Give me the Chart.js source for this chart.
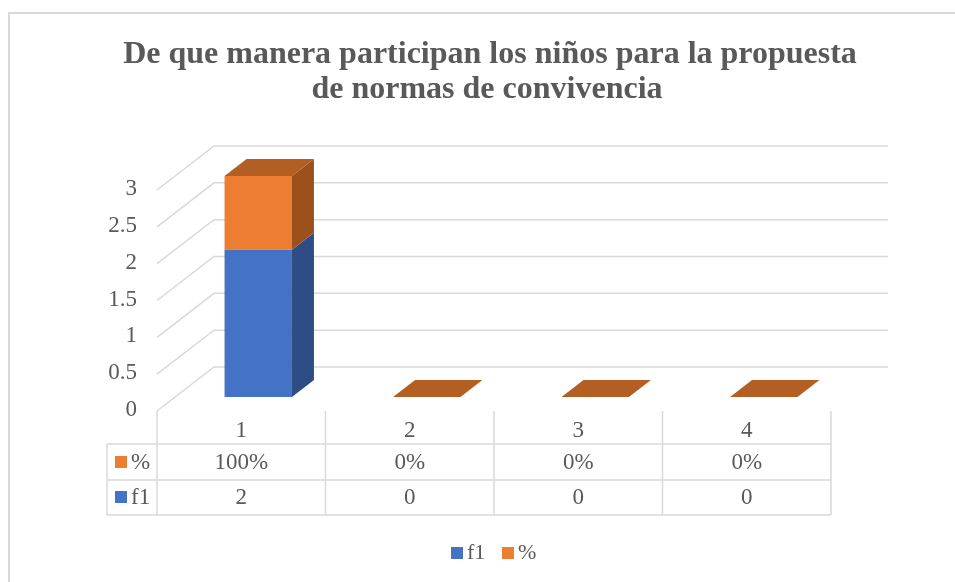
<!DOCTYPE html>
<html>
<head>
<meta charset="utf-8">
<script src="https://cdn.jsdelivr.net/npm/chart.js@4"></script>
<style>
  body { margin: 0; background: #fff; }
  canvas { display: block; }
</style>
</head>
<body>
<canvas id="chart" width="955" height="582"></canvas>
<script>
const categories = ['1', '2', '3', '4'];
const f1Values = [2, 0, 0, 0];
const pctValues = [1, 0, 0, 0]; // 100% shown as a stack of 1
const yTicks = [0, 0.5, 1, 1.5, 2, 2.5, 3];
const titleLines = ['De que manera participan los niños para la propuesta', 'de normas de convivencia'];

const serif = '"Liberation Serif", "Times New Roman", serif';
const textColor = '#595959';
const gridColor = '#D9D9D9';

// offsets of the fake 3D planes relative to the bar plane
const front = { dx: -17, dy: 14 };
const back = { dx: 40, dy: -30 };
const barDepth = { dx: 22, dy: -17 };

const sideColors = ['#2E4C85', '#9C501C'];
const topColor = '#B35F23';

function poly(ctx, pts, color) {
  ctx.beginPath();
  ctx.moveTo(pts[0][0], pts[0][1]);
  for (let i = 1; i < pts.length; i++) ctx.lineTo(pts[i][0], pts[i][1]);
  ctx.closePath();
  ctx.fillStyle = color;
  ctx.fill();
}

const wallsPlugin = {
  id: 'walls',
  beforeDatasetsDraw(chart) {
    const ctx = chart.ctx;
    const yScale = chart.scales.y;
    const area = chart.chartArea;
    ctx.save();
    ctx.strokeStyle = gridColor;
    ctx.lineWidth = 1.5;
    yTicks.forEach(v => {
      const y = yScale.getPixelForValue(v);
      ctx.beginPath();
      ctx.moveTo(area.left + front.dx, y + front.dy);
      ctx.lineTo(area.left + back.dx, y + back.dy);
      ctx.lineTo(area.right + back.dx, y + back.dy);
      ctx.stroke();
    });
    // tick labels
    ctx.fillStyle = textColor;
    ctx.font = '23px ' + serif;
    ctx.textAlign = 'right';
    ctx.textBaseline = 'middle';
    yTicks.forEach(v => {
      const y = yScale.getPixelForValue(v);
      ctx.fillText(String(v), 137, y + 13);
    });
    ctx.restore();
  },
  afterDatasetsDraw(chart) {
    const ctx = chart.ctx;
    const last = chart.data.datasets.length - 1;
    ctx.save();
    chart.data.datasets.forEach((ds, i) => {
      const meta = chart.getDatasetMeta(i);
      meta.data.forEach(bar => {
        const p = bar.getProps(['x', 'y', 'base', 'width'], true);
        const l = p.x - p.width / 2, r = p.x + p.width / 2;
        const top = Math.min(p.y, p.base), bot = Math.max(p.y, p.base);
        if (bot - top > 0.5) {
          poly(ctx, [[r, top], [r + barDepth.dx, top + barDepth.dy], [r + barDepth.dx, bot + barDepth.dy], [r, bot]], sideColors[i]);
        }
        if (i === last) {
          poly(ctx, [[l, top], [l + barDepth.dx, top + barDepth.dy], [r + barDepth.dx, top + barDepth.dy], [r, top]], topColor);
        }
      });
    });
    ctx.restore();
  },
  afterDraw(chart) {
    const ctx = chart.ctx;
    const xScale = chart.scales.x;
    const yScale = chart.scales.y;
    const area = chart.chartArea;
    ctx.save();

    // outer chart border (cropped at right and bottom)
    ctx.strokeStyle = gridColor;
    ctx.lineWidth = 2;
    ctx.beginPath();
    ctx.moveTo(9, 590);
    ctx.lineTo(9, 13);
    ctx.lineTo(960, 13);
    ctx.stroke();

    // title
    ctx.fillStyle = textColor;
    ctx.font = 'bold 32px ' + serif;
    ctx.textAlign = 'center';
    ctx.textBaseline = 'middle';
    ctx.fillText(titleLines[0], 490, 55);
    ctx.fillText(titleLines[1], 487, 90);

    // data table
    const floorY = yScale.getPixelForValue(0) + front.dy;
    const step = (xScale.getPixelForValue(1) - xScale.getPixelForValue(0));
    const colLeft = area.left + front.dx;
    const colRight = area.right + front.dx;
    const rowLines = [444, 480, 515];
    const tableLeft = 107;
    ctx.strokeStyle = gridColor;
    ctx.lineWidth = 1.5;
    ctx.beginPath();
    rowLines.forEach(y => { ctx.moveTo(tableLeft, y); ctx.lineTo(colRight, y); });
    ctx.moveTo(tableLeft, rowLines[0]); ctx.lineTo(tableLeft, rowLines[2]);
    for (let k = 0; k <= categories.length; k++) {
      const x = colLeft + k * step;
      ctx.moveTo(x, floorY); ctx.lineTo(x, rowLines[2]);
    }
    ctx.stroke();

    ctx.fillStyle = textColor;
    ctx.font = '23px ' + serif;
    ctx.textAlign = 'center';
    ctx.textBaseline = 'middle';
    categories.forEach((c, k) => {
      const cx = xScale.getPixelForValue(k) + front.dx;
      ctx.fillText(c, cx, 431);
      ctx.fillText(Math.round(pctValues[k] * 100) + '%', cx, 463);
      ctx.fillText(String(f1Values[k]), cx, 498);
    });
    // row keys
    const rows = [['%', '#ED7D31', 462], ['f1', '#4472C4', 497]];
    rows.forEach(([label, color, y]) => {
      ctx.fillStyle = color;
      ctx.fillRect(115, y - 6, 12, 12);
      ctx.fillStyle = textColor;
      ctx.textAlign = 'left';
      ctx.fillText(label, 131, y + 1);
    });

    // legend
    ctx.font = '22px ' + serif;
    const legend = [['f1', '#4472C4', 451], ['%', '#ED7D31', 502]];
    legend.forEach(([label, color, x]) => {
      ctx.fillStyle = color;
      ctx.fillRect(x, 547, 12, 12);
      ctx.fillStyle = textColor;
      ctx.textAlign = 'left';
      ctx.fillText(label, x + 16, 553);
    });
    ctx.restore();
  }
};

new Chart(document.getElementById('chart'), {
  type: 'bar',
  data: {
    labels: categories,
    datasets: [
      { label: 'f1', data: f1Values, backgroundColor: '#4472C4', borderWidth: 0 },
      { label: '%', data: pctValues, backgroundColor: '#ED7D31', borderWidth: 0 }
    ]
  },
  options: {
    responsive: false,
    animation: false,
    layout: { padding: { left: 174, right: 107, top: 176, bottom: 185 } },
    datasets: { bar: { barPercentage: 0.4, categoryPercentage: 1.0 } },
    plugins: { legend: { display: false }, tooltip: { enabled: false }, title: { display: false } },
    scales: {
      x: { display: false, stacked: true },
      y: { display: false, stacked: true, min: 0, max: 3 }
    }
  },
  plugins: [wallsPlugin]
});
</script>
</body>
</html>
